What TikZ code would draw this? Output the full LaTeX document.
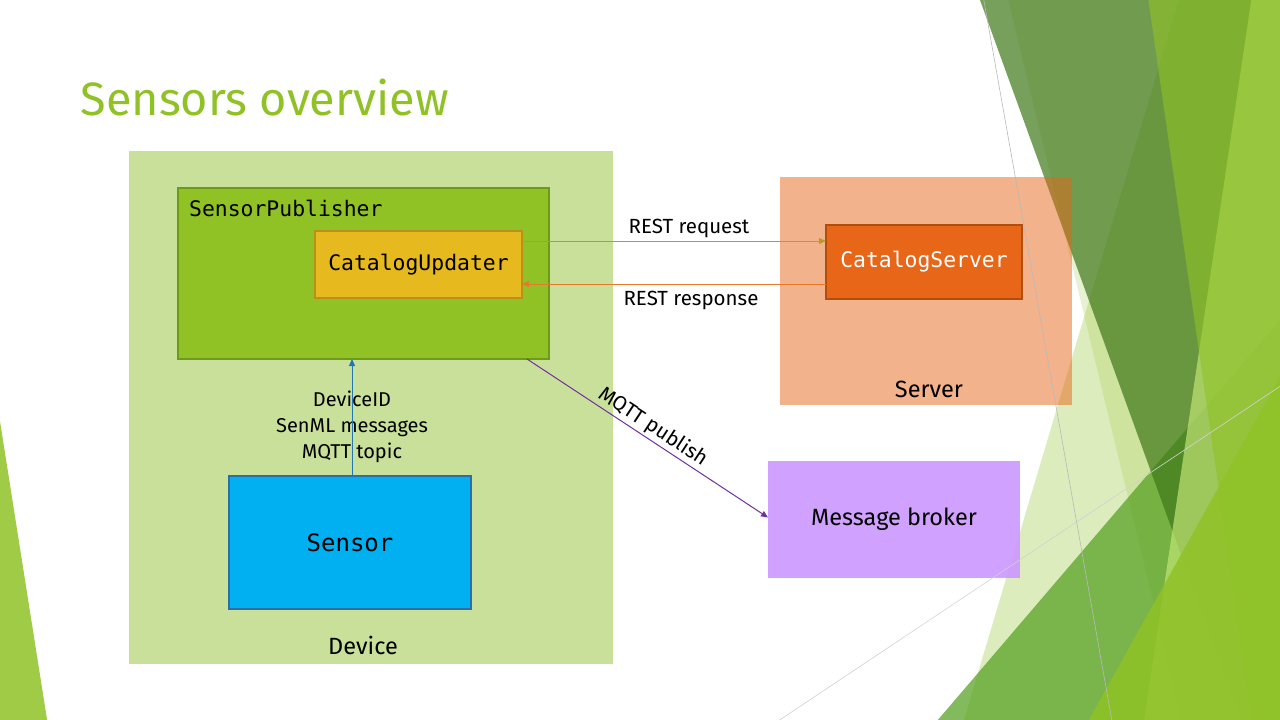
\documentclass[tikz,border=0pt]{standalone}
\usepackage{fontspec}
\setmainfont{Fira Sans}
\newfontfamily\monof{DejaVu Sans Mono}
\usetikzlibrary{arrows.meta}
\definecolor{accA}{HTML}{90C226}
\definecolor{accB}{HTML}{54A021}
\definecolor{accBdark}{HTML}{3F7819}
\definecolor{accAlight}{HTML}{C0E474}
\definecolor{accC}{HTML}{E6B91E}
\definecolor{accD}{HTML}{E76618}
\definecolor{devbg}{HTML}{C9E09B}
\definecolor{spborder}{HTML}{6E9A1C}
\definecolor{cuborder}{HTML}{B8901A}
\definecolor{csborder}{HTML}{B04E0E}
\definecolor{sensfill}{HTML}{00B0F0}
\definecolor{sensborder}{HTML}{2E6EA6}
\definecolor{broker}{HTML}{CC99FF}
\definecolor{reqcol}{HTML}{BC9A2A}
\definecolor{respcol}{HTML}{E8782A}
\definecolor{sencol}{HTML}{1F78B4}
\definecolor{mqttcol}{HTML}{7030A0}
\tikzset{
  area/.style={inner sep=0pt, outer sep=0pt},
  monotxt/.style={font=\monof\fontsize{21.4}{24}\selectfont},
  bodytxt/.style={font=\fontsize{20.5}{26}\selectfont, text=black},
  boxtxt/.style={font=\fontsize{23.5}{28}\selectfont, text=black},
  conn/.style={line width=1pt, -{Triangle[length=7pt,width=6pt]}},
  deco/.style={draw=gray!55, line width=0.6pt}
}
\begin{document}
\begin{tikzpicture}[x=1pt,y=-1pt]
\useasboundingbox (0,0) rectangle (1280,720);
\fill[white] (0,0) rectangle (1280,720);
% --- theme background facets ---
\fill[accA, opacity=.3] (1178.7,0) -- (1280,0) -- (1280,720) -- (963.9,720) -- cycle;
\fill[accA, opacity=.2] (1008.2,0) -- (1280,0) -- (1280,720) -- (1181.7,720) -- cycle;
\fill[accB, opacity=.72] (1280,320) -- (937.8,720) -- (1280,720) -- cycle;
\fill[accBdark, opacity=.7] (980,0) -- (1280,0) -- (1280,720) -- (1241,720) -- cycle;
\fill[accAlight, opacity=.7] (1251.3,0) -- (1280,0) -- (1280,720) -- (1144.2,720) -- cycle;
\fill[accA, opacity=.6] (1148.4,0) -- (1280,0) -- (1280,720) -- (1252,720) -- cycle;
\fill[accA, opacity=.85] (1280,376.9) -- (1088.9,720) -- (1280,720) -- cycle;
\fill[accA, opacity=.85] (0,421.3) -- (0,720) -- (47.1,720) -- cycle;

% --- title ---
\node[anchor=base west, inner sep=0pt, text=accA, font=\fontsize{46.8}{50}\selectfont] (title) at (80.5,115) {Sensors overview};

% --- containers ---
\node[area, fill=devbg, minimum width=484pt, minimum height=513pt] (device) at (371,407.5) {};
\node[boxtxt] (devlbl) at (363,645) {Device};
\node[area, fill=accD, fill opacity=.5, minimum width=292pt, minimum height=228pt] (server) at (926,291) {};
\node[boxtxt] (srvlbl) at (929,389) {Server};

% --- components ---
\node[area, fill=accA, draw=spborder, line width=1.5pt, minimum width=371pt, minimum height=171pt] (sp) at (363.5,273.5) {};
\node[monotxt, anchor=west, inner sep=0pt] (splbl) at (189,208) {SensorPublisher};
\node[area, fill=accC, draw=cuborder, line width=1.5pt, minimum width=207pt, minimum height=67pt, monotxt] (cu) at (418.5,264.5) {CatalogUpdater};
\node[area, fill=accD, draw=csborder, line width=1.5pt, minimum width=196pt, minimum height=74pt, monotxt, text=white] (cs) at (924,262) {CatalogServer};
\node[area, fill=broker, fill opacity=.92, text opacity=1, minimum width=252pt, minimum height=117pt, boxtxt] (mb) at (894,519.5) {Message broker};
\node[area, fill=sensfill, draw=sensborder, line width=1.5pt, minimum width=242pt, minimum height=133pt, font=\monof\fontsize{24}{28}\selectfont] (sensor) at (350,542.5) {Sensor};

% --- labels ---
\node[bodytxt] (reqlbl) at (689,228) {REST request};
\node[bodytxt] (resplbl) at (691,300) {REST response};
\node[bodytxt, font=\fontsize{20}{26}\selectfont, align=center] (senslbl) at (352,427) {DeviceID\\SenML messages\\MQTT topic};

% --- connectors ---
\draw[conn, reqcol] ([yshift=23.5pt]cu.east) -- ([yshift=23.5pt]cu.east -| cs.west);
\draw[conn, respcol] ([yshift=-22pt]cs.west) -- ([yshift=-22pt]cs.west -| cu.east);
\draw[conn, sencol] ([xshift=2pt]sensor.north) -- ([xshift=2pt]sensor.north |- sp.south);
\draw[conn, mqttcol] ([xshift=163.5pt]sp.south) -- node[bodytxt, sloped, above, pos=0.495, inner sep=2pt] (mqttlbl) {MQTT publish} ([yshift=2pt]mb.west);

% --- thin theme lines ---
\draw[deco] (983.8,0) -- (1111.8,720);
\draw[deco, draw=gray!35] (779.6,720) -- (1279.7,386.5);
\end{tikzpicture}
\end{document}
